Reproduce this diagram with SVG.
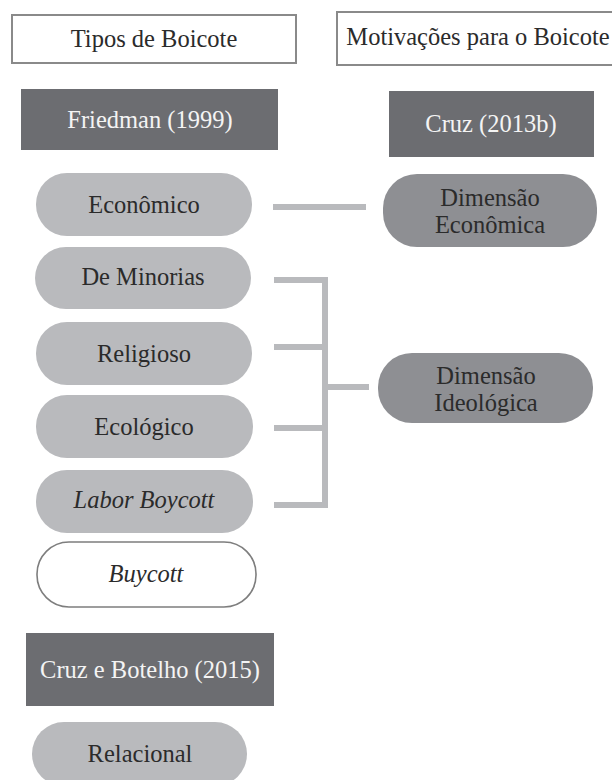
<svg xmlns="http://www.w3.org/2000/svg" width="612" height="780" viewBox="0 0 612 780">
<style>
.hdr{fill:#ffffff;stroke:#8a8a8a;stroke-width:2}
.src{fill:#6c6d71}
.pill{fill:#b9babd}
.dim{fill:#8e8f93}
.buy{fill:#ffffff;stroke:#7e7e7e;stroke-width:1.6}
text{font-family:'Liberation Serif','Times New Roman',serif;font-size:24.5px;text-anchor:middle;fill:#2b2b2b}
.w{fill:#f4f4f4}
.i{font-style:italic}
.con{fill:none;stroke:#b9babd;stroke-width:6;stroke-linecap:butt;stroke-linejoin:miter}
</style>
<rect width="612" height="780" fill="#ffffff"/>
<g id="tipos">
<rect class="hdr" x="12" y="15" width="284" height="48"/>
<text x="154" y="47">Tipos de Boicote</text>
</g>
<g id="motivacoes">
<rect class="hdr" x="337" y="12" width="285" height="53"/>
<text x="478" y="45">Motivações para o Boicote</text>
</g>
<g id="friedman">
<rect class="src" x="21" y="89" width="257" height="61"/>
<text class="w" x="150" y="128">Friedman (1999)</text>
</g>
<g id="cruz2013b">
<rect class="src" x="389" y="91" width="205" height="66"/>
<text class="w" x="491" y="132">Cruz (2013b)</text>
</g>
<g id="economico">
<rect class="pill" x="36" y="173" width="216" height="63" rx="31"/>
<text x="144" y="213">Econômico</text>
</g>
<g id="minorias">
<rect class="pill" x="35" y="247" width="216" height="62" rx="31"/>
<text x="143" y="285">De Minorias</text>
</g>
<g id="religioso">
<rect class="pill" x="36" y="322" width="216" height="63" rx="31"/>
<text x="144" y="362">Religioso</text>
</g>
<g id="ecologico">
<rect class="pill" x="36" y="395" width="217" height="63" rx="31"/>
<text x="144" y="435">Ecológico</text>
</g>
<g id="labor">
<rect class="pill" x="36" y="470" width="217" height="63" rx="31"/>
<text class="i" x="144" y="508">Labor Boycott</text>
</g>
<g id="buycott">
<rect class="buy" x="37" y="542" width="219" height="65" rx="32"/>
<text class="i" x="146" y="582">Buycott</text>
</g>
<g id="cruzbotelho">
<rect class="src" x="26" y="633" width="248" height="73"/>
<text class="w" x="150" y="678">Cruz e Botelho (2015)</text>
</g>
<g id="relacional">
<rect class="pill" x="32" y="722" width="215" height="64" rx="32"/>
<text x="140" y="762">Relacional</text>
</g>
<g id="dimEconomica">
<rect class="dim" x="383" y="174" width="214" height="73" rx="34"/>
<text x="490" y="206">Dimensão</text>
<text x="490" y="233">Econômica</text>
</g>
<g id="dimIdeologica">
<rect class="dim" x="378" y="353" width="215" height="70" rx="34"/>
<text x="486" y="384">Dimensão</text>
<text x="486" y="411">Ideológica</text>
</g>
<g id="connectors">
<path class="con" d="M273 207 H366"/>
<path class="con" d="M274 280 H325 V505 H274"/>
<path class="con" d="M274 347 H325"/>
<path class="con" d="M274 428 H325"/>
<path class="con" d="M325 387 H369"/>
</g>
</svg>
